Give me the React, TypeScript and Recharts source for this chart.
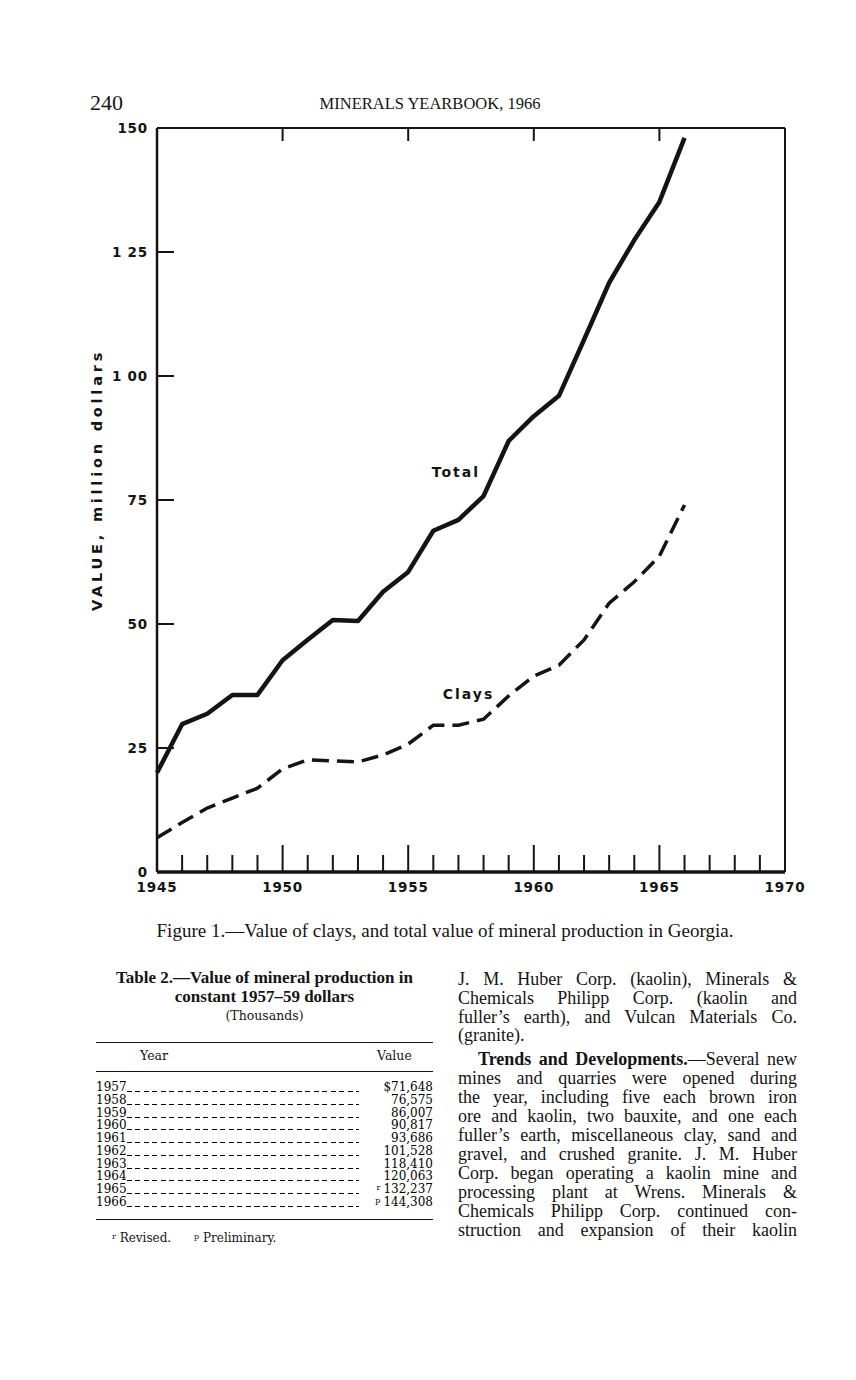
import React from "react";
import { LineChart, Line, XAxis, YAxis, ReferenceDot } from "recharts";

const years = [1945, 1946, 1947, 1948, 1949, 1950, 1951, 1952, 1953, 1954, 1955, 1956, 1957, 1958, 1959, 1960, 1961, 1962, 1963, 1964, 1965, 1966];
const totalValues = [20.0, 29.8, 31.9, 35.7, 35.7, 42.7, 46.8, 50.8, 50.6, 56.5, 60.5, 68.8, 71.0, 75.8, 86.9, 91.9, 96.0, 107.3, 118.8, 127.4, 135.1, 148.0];
const clayValues = [6.9, 10.0, 12.9, 14.9, 16.9, 20.8, 22.6, 22.4, 22.2, 23.6, 25.8, 29.6, 29.6, 30.8, 35.5, 39.5, 41.7, 46.8, 54.2, 58.5, 63.7, 74.0];

const xTicks = [1945, 1946, 1947, 1948, 1949, 1950, 1951, 1952, 1953, 1954, 1955, 1956, 1957, 1958, 1959, 1960, 1961, 1962, 1963, 1964, 1965, 1966, 1967, 1968, 1969, 1970];
const topTicks = [1950, 1955, 1960, 1965];
const yTicks = [0, 25, 50, 75, 100, 125, 150];
const yLabels = ["0", "25", "50", "75", "1 00", "1 25", "150"];

const tableYears = ["1957", "1958", "1959", "1960", "1961", "1962", "1963", "1964", "1965", "1966"];
const tableValues = ["$71,648", "76,575", "86,007", "90,817", "93,686", "101,528", "118,410", "120,063", "132,237", "144,308"];
const tableMarks = ["", "", "", "", "", "", "", "", "r", "p"];

const textLines = [
  "J. M. Huber Corp. (kaolin), Minerals &",
  "Chemicals Philipp Corp. (kaolin and",
  "fuller’s earth), and Vulcan Materials Co.",
  "(granite).",
  "Trends and Developments.—Several new",
  "mines and quarries were opened during",
  "the year, including five each brown iron",
  "ore and kaolin, two bauxite, and one each",
  "fuller’s earth, miscellaneous clay, sand and",
  "gravel, and crushed granite. J. M. Huber",
  "Corp. began operating a kaolin mine and",
  "processing plant at Wrens. Minerals &",
  "Chemicals Philipp Corp. continued con-",
  "struction and expansion of their kaolin",
];
const textLineY = [979, 998, 1017, 1035, 1059, 1078, 1097, 1116, 1135, 1154, 1173, 1192, 1211, 1230];

const data = years.map((y, i) => ({ year: y, total: totalValues[i], clays: clayValues[i] }));

const INK = "#141414";
const SANS = "'DejaVu Sans', sans-serif";
const SERIF = "'Liberation Serif', serif";
const TSERIF = "'DejaVu Serif', serif";

const BottomTick = (props: any) => {
  const { x, y, payload } = props;
  const v = payload.value;
  const major = v % 5 === 0;
  const edge = v === 1945 || v === 1970;
  return (
    <g>
      {!edge && (
        <line x1={x} x2={x} y1={y} y2={y - (major ? 27 : 17)} stroke={INK} strokeWidth={2} />
      )}
      {major && (
        <text x={x} y={y + 20} textAnchor="middle" fontFamily={SANS} fontWeight="bold" fontSize={13.5} letterSpacing={0.8} fill={INK}>
          {v}
        </text>
      )}
    </g>
  );
};

const TopTick = (props: any) => {
  const { x, y } = props;
  return <line x1={x} x2={x} y1={y} y2={y + 13} stroke={INK} strokeWidth={2} />;
};

const LeftTick = (props: any) => {
  const { x, y, payload } = props;
  const v = payload.value;
  const idx = yTicks.indexOf(v);
  const inner = v > 0 && v < 150;
  return (
    <g>
      {inner && <line x1={x} x2={x + 17} y1={y} y2={y} stroke={INK} strokeWidth={2} />}
      <text x={x - 9} y={y + 5} textAnchor="end" fontFamily={SANS} fontWeight="bold" fontSize={13.5} letterSpacing={0.8} fill={INK}>
        {yLabels[idx]}
      </text>
    </g>
  );
};

const RightTick = (props: any) => {
  const { x, y, payload } = props;
  const v = payload.value;
  const inner = v > 0 && v < 150;
  return inner ? <line x1={x} x2={x - 20} y1={y} y2={y} stroke={INK} strokeWidth={2} /> : <g />;
};

const YTitle = (props: any) => {
  const { viewBox } = props;
  const cx = viewBox.x - 20;
  const cy = viewBox.y + viewBox.height / 2 - 20;
  return (
    <text x={cx} y={cy} transform={`rotate(-90 ${cx} ${cy})`} textAnchor="middle" dominantBaseline="central" fontFamily={SANS} fontWeight="bold" fontSize={14.5} letterSpacing={3.8} fill={INK}>
      VALUE, million dollars
    </text>
  );
};

const SeriesLabel = (text: string) => (props: any) => {
  const { viewBox } = props;
  const cx = viewBox.x + (viewBox.width || 0) / 2;
  const cy = viewBox.y + (viewBox.height || 0) / 2;
  return (
    <text x={cx} y={cy} textAnchor="middle" dominantBaseline="central" fontFamily={SANS} fontWeight="bold" fontSize={14} letterSpacing={2} fill={INK}>
      {text}
    </text>
  );
};

const abs = (top: number, left: number, extra: React.CSSProperties = {}): React.CSSProperties => ({
  position: "absolute",
  top,
  left,
  ...extra,
});

export default function App() {
  return (
    <div style={{ position: "absolute", top: 0, left: 0, width: 856, height: 1380, background: "#fff", color: INK, overflow: "hidden" }}>
      <div style={abs(88, 90, { fontFamily: SERIF, fontSize: 22, lineHeight: "30px" })}>240</div>
      <div style={abs(93, 230, { width: 400, textAlign: "center", fontFamily: SERIF, fontSize: 16.5, lineHeight: "22px" })}>
        MINERALS YEARBOOK, 1966
      </div>

      <div style={abs(0, 0)}>
        <LineChart width={856} height={902} data={data} margin={{ top: 118, right: 51, bottom: 0, left: 117 }}>
          <XAxis
            xAxisId="b"
            dataKey="year"
            type="number"
            domain={[1945, 1970]}
            ticks={xTicks}
            interval={0}
            tickSize={0}
            tickMargin={0}
            tick={<BottomTick />}
            height={30}
            axisLine={{ stroke: INK, strokeWidth: 3.5 }}
            tickLine={false}
          />
          <XAxis
            xAxisId="t"
            orientation="top"
            dataKey="year"
            type="number"
            domain={[1945, 1970]}
            ticks={topTicks}
            interval={0}
            tickSize={0}
            tickMargin={0}
            tick={<TopTick />}
            height={10}
            axisLine={{ stroke: INK, strokeWidth: 2 }}
            tickLine={false}
          />
          <YAxis
            yAxisId="l"
            type="number"
            domain={[0, 150]}
            ticks={yTicks}
            interval={0}
            width={40}
            tickSize={0}
            tickMargin={0}
            tick={<LeftTick />}
            axisLine={{ stroke: INK, strokeWidth: 2.5 }}
            tickLine={false}
            label={<YTitle />}
          />
          <YAxis
            yAxisId="r"
            orientation="right"
            type="number"
            domain={[0, 150]}
            ticks={yTicks}
            interval={0}
            width={20}
            tickSize={0}
            tickMargin={0}
            tick={<RightTick />}
            axisLine={{ stroke: INK, strokeWidth: 2 }}
            tickLine={false}
          />
          <Line xAxisId="b" yAxisId="l" dataKey="total" stroke={INK} strokeWidth={4.5} dot={false} isAnimationActive={false} strokeLinejoin="round" />
          <Line xAxisId="b" yAxisId="l" dataKey="clays" stroke={INK} strokeWidth={3.5} strokeDasharray="17 8" dot={false} isAnimationActive={false} />
          <ReferenceDot xAxisId="b" yAxisId="l" x={1956.9} y={80.6} r={0} stroke="none" fill="none" label={SeriesLabel("Total")} />
          <ReferenceDot xAxisId="b" yAxisId="l" x={1957.4} y={35.8} r={0} stroke="none" fill="none" label={SeriesLabel("Clays")} />
        </LineChart>
      </div>

      <div style={abs(918, 60, { width: 770, textAlign: "center", fontFamily: SERIF, fontSize: 19, lineHeight: "26px" })}>
        Figure 1.—Value of clays, and total value of mineral production in Georgia.
      </div>

      <div style={abs(968, 86, { width: 357, textAlign: "center", fontFamily: SERIF, fontWeight: "bold", fontSize: 17, lineHeight: "19px" })}>
        Table 2.—Value of mineral production in
        <br />
        constant 1957–59 dollars
      </div>
      <div style={abs(1007, 96, { width: 337, textAlign: "center", fontFamily: TSERIF, fontSize: 12.5, lineHeight: "18px" })}>
        (Thousands)
      </div>
      <div style={abs(1042, 96, { width: 337, height: 0, borderTop: `1.5px solid ${INK}` })} />
      <div style={abs(1047, 140, { fontFamily: TSERIF, fontSize: 12.5, lineHeight: "18px" })}>Year</div>
      <div style={abs(1047, 377, { fontFamily: TSERIF, fontSize: 12.5, lineHeight: "18px" })}>Value</div>
      <div style={abs(1071, 96, { width: 337, height: 0, borderTop: `1px solid ${INK}` })} />
      {tableYears.map((y, i) => (
        <div
          key={y}
          style={abs(1081 + i * 12.78, 96, {
            width: 337,
            height: 13,
            display: "flex",
            alignItems: "flex-end",
            fontFamily: TSERIF,
            fontSize: 12,
            lineHeight: "13px",
            color: "#000",
          })}
        >
          <span>{y}</span>
          <span
            style={{
              width: 232,
              height: 1,
              marginBottom: 2,
              backgroundImage: `repeating-linear-gradient(to right, #000 0 5px, transparent 5px 8.5px)`,
            }}
          />
          <span style={{ flex: 1, textAlign: "right" }}>
            {tableMarks[i] && <span style={{ fontSize: 8, verticalAlign: "3px", marginRight: 3 }}>{tableMarks[i]}</span>}
            {tableValues[i]}
          </span>
        </div>
      ))}
      <div style={abs(1219, 96, { width: 337, height: 0, borderTop: `1.5px solid ${INK}` })} />
      <div style={abs(1228, 112, { fontFamily: TSERIF, fontSize: 12, lineHeight: "18px", whiteSpace: "pre" })}>
        <span style={{ fontSize: 8, verticalAlign: "3px" }}>r</span> Revised.{"      "}
        <span style={{ fontSize: 8, verticalAlign: "3px" }}>p</span> Preliminary.
      </div>

      {textLines.map((t, i) => {
        const justify = i !== 3;
        const indent = i === 4 ? 20 : 0;
        const content =
          i === 4 ? (
            <>
              <b>Trends and Developments.</b>—Several new
            </>
          ) : (
            t
          );
        return (
          <div
            key={i}
            style={abs(textLineY[i] - 11, 458 + indent, {
              width: 339 - indent,
              fontFamily: SERIF,
              fontSize: 18,
              lineHeight: "22px",
              textAlign: justify ? "justify" : "left",
              textAlignLast: justify ? "justify" : "left",
              whiteSpace: "nowrap",
            })}
          >
            {content}
          </div>
        );
      })}
    </div>
  );
}
